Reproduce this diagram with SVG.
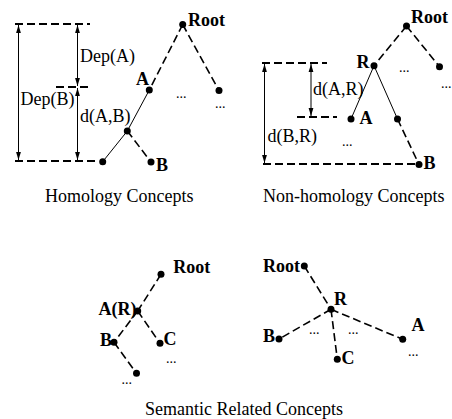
<svg xmlns="http://www.w3.org/2000/svg" width="452" height="419" viewBox="0 0 452 419">
<style>
text{font-family:"Liberation Serif","Times New Roman",serif;font-size:18px;fill:#000}
.b{font-weight:bold}
.dots{font-size:14px}
.dash{stroke:#000;stroke-width:1.6;stroke-dasharray:8,4;fill:none}
.guide{stroke:#000;stroke-width:2;stroke-dasharray:8,4;fill:none}
.solid{stroke:#000;stroke-width:1;fill:none}
.arr{stroke:#000;stroke-width:1;fill:none;marker-start:url(#ah);marker-end:url(#ah)}
circle{fill:#000}
</style>
<defs>
<marker id="ah" markerUnits="userSpaceOnUse" markerWidth="9" markerHeight="6" refX="8" refY="3" orient="auto-start-reverse">
<path d="M0,0.6 L8,3 L0,5.4 z" fill="#000"/>
</marker>
</defs>
<g id="connectors">
<line class="guide" x1="15" y1="24" x2="90" y2="24"/>
<line class="guide" x1="56" y1="87" x2="88" y2="87"/>
<line class="guide" x1="15" y1="161" x2="95" y2="161"/>
<line class="arr" x1="18.5" y1="25" x2="18.5" y2="160"/>
<line class="arr" x1="77.5" y1="25" x2="77.5" y2="86"/>
<line class="arr" x1="77.5" y1="88" x2="77.5" y2="160"/>
<line class="dash" x1="182.7" y1="24.5" x2="149.3" y2="90"/>
<line class="dash" x1="182.7" y1="24.5" x2="219" y2="90.5"/>
<line class="solid" x1="149.3" y1="90" x2="127.3" y2="131"/>
<line class="solid" x1="127.3" y1="131" x2="102.7" y2="161.7"/>
<line class="dash" x1="127.3" y1="131" x2="151" y2="162"/>
<line class="guide" x1="262" y1="63" x2="327" y2="63"/>
<line class="guide" x1="297" y1="117" x2="337" y2="117"/>
<line class="guide" x1="263" y1="164" x2="419" y2="164"/>
<line class="arr" x1="264.5" y1="64" x2="264.5" y2="163"/>
<line class="arr" x1="311" y1="64" x2="311" y2="116"/>
<line class="dash" x1="406.5" y1="26" x2="374" y2="65.7"/>
<line class="dash" x1="406.5" y1="26" x2="439.5" y2="66.7"/>
<line class="solid" x1="374" y1="65.7" x2="351" y2="119"/>
<line class="solid" x1="374" y1="65.7" x2="397.5" y2="119"/>
<line class="dash" x1="397.5" y1="119" x2="419" y2="164.5"/>
<line class="dash" x1="161" y1="274.3" x2="137.7" y2="311"/>
<line class="dash" x1="137.7" y1="311" x2="114" y2="342.3"/>
<line class="dash" x1="137.7" y1="311" x2="160" y2="343.3"/>
<line class="dash" x1="114" y1="342.3" x2="136.5" y2="373.3"/>
<line class="dash" x1="304.3" y1="266" x2="331" y2="309.3"/>
<line class="dash" x1="331" y1="309.3" x2="279" y2="339"/>
<line class="dash" x1="331" y1="309.3" x2="337.3" y2="359.3"/>
<line class="dash" x1="331" y1="309.3" x2="402.7" y2="339.3"/>
</g>
<g id="labels">
<text x="80" y="62">Dep(A)</text>
<text x="20.5" y="105">Dep(B)</text>
<text x="80" y="122">d(A,B)</text>
<text x="313" y="95">d(A,R)</text>
<text x="267.5" y="141.5">d(B,R)</text>
<text class="dots" x="176" y="97.5">...</text>
<text class="dots" x="215" y="108">...</text>
<text class="dots" x="399" y="71.5">...</text>
<text class="dots" x="441" y="88">...</text>
<text class="dots" x="342" y="146">...</text>
<text class="dots" x="166" y="363">...</text>
<text class="dots" x="121.5" y="384">...</text>
<text class="dots" x="309" y="333.5">...</text>
<text class="dots" x="348" y="333.5">...</text>
<text class="dots" x="408" y="355.5">...</text>
<text x="45" y="202">Homology Concepts</text>
<text x="263" y="202">Non-homology Concepts</text>
<text x="145" y="415">Semantic Related Concepts</text>
</g>
<g id="p1-root"><circle cx="182.7" cy="24.5" r="3.5"/><text class="b" x="188" y="26">Root</text></g>
<g id="p1-A"><circle cx="149.3" cy="90" r="3.5"/><text class="b" x="136" y="85">A</text></g>
<g id="p1-right"><circle cx="219" cy="90.5" r="3.5"/></g>
<g id="p1-mid"><circle cx="127.3" cy="131" r="3.5"/></g>
<g id="p1-leaf"><circle cx="102.7" cy="161.7" r="3.5"/></g>
<g id="p1-B"><circle cx="151" cy="162" r="3.5"/><text class="b" x="156" y="170.5">B</text></g>
<g id="p2-root"><circle cx="406.5" cy="26" r="3.5"/><text class="b" x="411" y="22.5">Root</text></g>
<g id="p2-R"><circle cx="374" cy="65.7" r="3.5"/><text class="b" x="356.5" y="68">R</text></g>
<g id="p2-right"><circle cx="439.5" cy="66.7" r="3.5"/></g>
<g id="p2-A"><circle cx="351" cy="119" r="3.5"/><text class="b" x="359.5" y="124">A</text></g>
<g id="p2-child"><circle cx="397.5" cy="119" r="3.5"/></g>
<g id="p2-B"><circle cx="419" cy="164.5" r="3.5"/><text class="b" x="423.5" y="169">B</text></g>
<g id="p3-root"><circle cx="161" cy="274.3" r="3.5"/><text class="b" x="173.3" y="273">Root</text></g>
<g id="p3-AR"><circle cx="137.7" cy="311" r="3.5"/><text class="b" x="136.5" y="315" text-anchor="end">A(R)</text></g>
<g id="p3-B"><circle cx="114" cy="342.3" r="3.5"/><text class="b" x="112" y="346" text-anchor="end">B</text></g>
<g id="p3-C"><circle cx="160" cy="343.3" r="3.5"/><text class="b" x="163.5" y="345">C</text></g>
<g id="p3-leaf"><circle cx="136.5" cy="373.3" r="3.5"/></g>
<g id="p4-root"><circle cx="304.3" cy="266" r="3.5"/><text class="b" x="300" y="272" text-anchor="end">Root</text></g>
<g id="p4-R"><circle cx="331" cy="309.3" r="3.5"/><text class="b" x="334" y="305">R</text></g>
<g id="p4-B"><circle cx="279" cy="339" r="3.5"/><text class="b" x="275" y="342" text-anchor="end">B</text></g>
<g id="p4-C"><circle cx="337.3" cy="359.3" r="3.5"/><text class="b" x="341.5" y="364">C</text></g>
<g id="p4-A"><circle cx="402.7" cy="339.3" r="3.5"/><text class="b" x="411.5" y="331">A</text></g>
</svg>
